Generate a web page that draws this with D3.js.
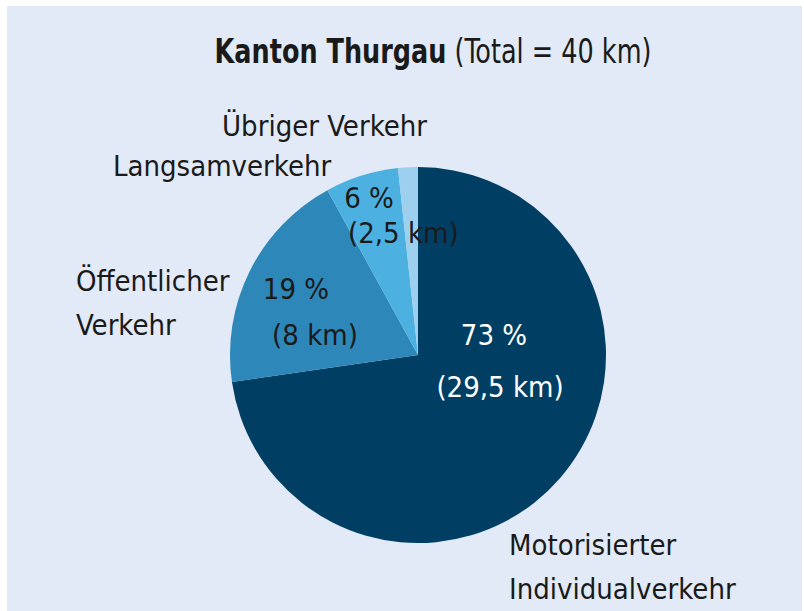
<!DOCTYPE html>
<html>
<head>
<meta charset="utf-8">
<script src="https://cdn.jsdelivr.net/npm/d3@7"></script>
<style>
  body { margin: 0; background: #fff; }
  text { font-family: "Liberation Sans Narrow", "DejaVu Sans Condensed", sans-serif; fill: #1a1a1a; }
</style>
</head>
<body>
<div id="chart"></div>
<script>
// Anteile in Prozent (Uhrzeigersinn ab 12 Uhr)
const categories = ["Motorisierter Individualverkehr", "Öffentlicher Verkehr", "Langsamverkehr", "Übriger Verkehr"];
const shares = [72.7, 19.3, 6.3, 1.7];
const pctLabels = ["73 %", "19 %", "6 %", ""];
const kmLabels = ["(29,5 km)", "(8 km)", "(2,5 km)", ""];
const colors = ["#003f63", "#2e87b9", "#4cb1e1", "#9dd0ee"];

const svgWidth = 804;
const svgHeight = 611;
const cx = 418, cy = 355, radius = 188;

const svg = d3.select("#chart").append("svg")
  .attr("width", svgWidth)
  .attr("height", svgHeight);

svg.append("rect")
  .attr("x", 7).attr("y", 6)
  .attr("width", 795).attr("height", svgHeight - 6)
  .attr("fill", "#e1eaf6");

// title, narrowed a bit to look like the condensed original
const title = svg.append("text")
  .attr("transform", "translate(433,63) scale(0.86,1)")
  .attr("text-anchor", "middle")
  .style("font-size", "33px");
title.append("tspan").attr("font-weight", "bold").text("Kanton Thurgau");
title.append("tspan").text(" (Total = 40 km)");

const pie = d3.pie().sort(null).value(d => d);
const arc = d3.arc().innerRadius(0).outerRadius(radius);

const g = svg.append("g").attr("transform", `translate(${cx},${cy})`);

g.selectAll("path")
  .data(pie(shares))
  .enter()
  .append("path")
  .attr("d", arc)
  .attr("fill", (d, i) => colors[i]);

// labels inside the slices
const innerPos = [
  { x: 494, y: 345, y2: 397, color: "#ffffff" },
  { x: 296, y: 299, y2: 345, color: "#1a1a1a" },
  { x: 369, y: 208, y2: 243, color: "#1a1a1a" }
];
innerPos.forEach((p, i) => {
  svg.append("text")
    .attr("x", p.x).attr("y", p.y)
    .attr("text-anchor", "middle")
    .style("font-size", "29px")
    .style("fill", p.color)
    .text(pctLabels[i]);
  svg.append("text")
    .attr("x", i === 2 ? 348 : p.x + (i === 1 ? 19 : 6)).attr("y", p.y2)
    .attr("text-anchor", i === 2 ? "start" : "middle")
    .style("font-size", "29px")
    .style("fill", p.color)
    .text(kmLabels[i]);
});

// category names outside
const outside = [
  { lines: ["Motorisierter", "Individualverkehr"], x: 509, y: 555 },
  { lines: ["Öffentlicher", "Verkehr"], x: 76, y: 291 },
  { lines: ["Langsamverkehr"], x: 113, y: 176 },
  { lines: ["Übriger Verkehr"], x: 222, y: 136 }
];
outside.forEach(o => {
  const t = svg.append("text")
    .attr("x", o.x).attr("y", o.y)
    .style("font-size", "29px");
  o.lines.forEach((l, j) => {
    t.append("tspan").attr("x", o.x).attr("dy", j === 0 ? 0 : 44).text(l);
  });
});
</script>
</body>
</html>
